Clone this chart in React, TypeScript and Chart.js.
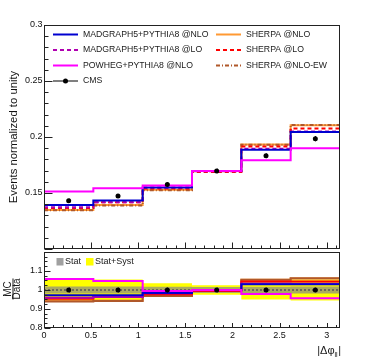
import React, { useEffect, useRef } from "react";
import { Chart, registerables } from "chart.js";
Chart.register(...registerables);

const FONT = "'Liberation Sans', Arial, Helvetica, sans-serif";

// ---- data ----
const binEdges = [0, 0.5236, 1.0472, 1.5708, 2.0944, 2.618, 3.1416];
const binCenters = [0.2618, 0.7854, 1.309, 1.8326, 2.3562, 2.8798];
const cmsData = [0.1431, 0.1473, 0.1575, 0.1697, 0.1832, 0.1985];
const cmsStat = [0.0018, 0.0018, 0.0019, 0.002, 0.0021, 0.0023];
const madgraphNlo = [0.1392, 0.1432, 0.155, 0.1697, 0.1887, 0.2044];
const madgraphLo = [0.1372, 0.1418, 0.1548, 0.1695, 0.1895, 0.205];
const powhegNlo = [0.1514, 0.1542, 0.1567, 0.1697, 0.1793, 0.19];
const sherpaNlo = [0.1348, 0.1392, 0.1528, 0.1697, 0.1932, 0.2105];
const sherpaLo = [0.1365, 0.1418, 0.154, 0.1688, 0.1915, 0.2075];
const sherpaNloEw = [0.1345, 0.1388, 0.1525, 0.1694, 0.193, 0.2108];
const ratioStatBand = [0.018, 0.018, 0.017, 0.016, 0.017, 0.018];
const ratioTotalBand = [0.06, 0.055, 0.035, 0.025, 0.05, 0.055];
const mainYTickLabels = [0.15, 0.2, 0.25, 0.3];
const ratioYTickLabels = [0.8, 0.9, 1, 1.1];
const xTickLabels = [0, 0.5, 1, 1.5, 2, 2.5, 3];

const models = [
  { label: "MADGRAPH5+PYTHIA8 @NLO", values: madgraphNlo, color: "#0000d0", dash: [] as number[], col: 0, row: 0, order: 2 },
  { label: "MADGRAPH5+PYTHIA8 @LO", values: madgraphLo, color: "#b000b0", dash: [4, 3], col: 0, row: 1, order: 3 },
  { label: "POWHEG+PYTHIA8 @NLO", values: powhegNlo, color: "#ff00ff", dash: [] as number[], col: 0, row: 2, order: 1 },
  { label: "SHERPA @NLO", values: sherpaNlo, color: "#ff9933", dash: [] as number[], col: 1, row: 0, order: 6 },
  { label: "SHERPA @LO", values: sherpaLo, color: "#ff0000", dash: [4, 3], col: 1, row: 1, order: 4 },
  { label: "SHERPA @NLO-EW", values: sherpaNloEw, color: "#b0582a", dash: [4, 2, 1, 2], col: 1, row: 2, order: 5 },
];

const stepPoints = (vals: number[]) => [
  ...binEdges.slice(0, -1).map((x, i) => ({ x, y: vals[i] })),
  { x: binEdges[binEdges.length - 1], y: vals[vals.length - 1] },
];
const ratioOf = (vals: number[]) => vals.map((v, i) => v / cmsData[i]);

// ---- plugins ----
function framePlugin(s: any) {
  return {
    id: "frame",
    afterDatasetsDraw(chart: any) {
      const { ctx, chartArea: a } = chart;
      const xs = chart.scales.x, ys = chart.scales.y;
      ctx.save();
      ctx.strokeStyle = "#222";
      ctx.lineWidth = 1;
      ctx.setLineDash([]);
      const L = Math.round(a.left) + 0.5, R = Math.round(a.right) - 0.5;
      const T = Math.round(a.top) + 0.5, B = Math.round(a.bottom) - 0.5;
      ctx.strokeRect(L, T, R - L, B - T);
      ctx.beginPath();
      const nx = Math.floor((xs.max - xs.min) / s.xMinor + 1e-6);
      const rx = Math.round(s.xMajor / s.xMinor);
      for (let i = 0; i <= nx; i++) {
        const px = Math.round(xs.getPixelForValue(xs.min + i * s.xMinor)) + 0.5;
        const len = i % rx === 0 ? s.xMajLen : s.xMinLen;
        ctx.moveTo(px, B);
        ctx.lineTo(px, B - len);
      }
      const ny = Math.floor((ys.max - ys.min) / s.yMinor + 1e-6);
      const ry = Math.round(s.yMajor / s.yMinor);
      for (let i = 0; i <= ny; i++) {
        const py = Math.round(ys.getPixelForValue(ys.min + i * s.yMinor)) + 0.5;
        const len = i % ry === 0 ? s.yMajLen : s.yMinLen;
        ctx.moveTo(L, py);
        ctx.lineTo(L + len, py);
      }
      ctx.stroke();
      ctx.restore();
    },
  };
}

const errorBarPlugin = {
  id: "errbars",
  afterDatasetsDraw(chart: any) {
    const ctx = chart.ctx;
    const ys = chart.scales.y;
    chart.data.datasets.forEach((ds: any, di: number) => {
      if (!ds.errorBars) return;
      const meta = chart.getDatasetMeta(di);
      ctx.save();
      ctx.strokeStyle = "#000";
      ctx.lineWidth = 1;
      ctx.setLineDash([]);
      ctx.beginPath();
      meta.data.forEach((pt: any, i: number) => {
        const d = ds.data[i];
        const e = ds.errorBars[i];
        const x = Math.round(pt.x) + 0.5;
        ctx.moveTo(x, ys.getPixelForValue(d.y - e));
        ctx.lineTo(x, ys.getPixelForValue(d.y + e));
      });
      ctx.stroke();
      ctx.restore();
    });
  },
};

const mainDecor = {
  id: "mainDecor",
  afterDraw(chart: any) {
    const ctx = chart.ctx;
    ctx.save();
    const colLine = [53, 216];
    const lineLen = 25;
    const colText = [83, 246];
    const rowY = [34.5, 50, 65.5, 81];
    ctx.font = `8.7px ${FONT}`;
    ctx.textBaseline = "middle";
    ctx.textAlign = "left";
    models.forEach((m) => {
      const y = rowY[m.row];
      ctx.strokeStyle = m.color;
      ctx.lineWidth = 2;
      ctx.setLineDash(m.dash);
      ctx.beginPath();
      ctx.moveTo(colLine[m.col], y);
      ctx.lineTo(colLine[m.col] + lineLen, y);
      ctx.stroke();
      ctx.fillStyle = "#1a1a1a";
      ctx.fillText(m.label, colText[m.col], y);
    });
    const yc = rowY[3];
    ctx.setLineDash([]);
    ctx.strokeStyle = "#000";
    ctx.lineWidth = 1;
    ctx.beginPath();
    ctx.moveTo(colLine[0], yc);
    ctx.lineTo(colLine[0] + lineLen, yc);
    ctx.stroke();
    ctx.fillStyle = "#000";
    ctx.beginPath();
    ctx.arc(colLine[0] + lineLen / 2, yc, 2.5, 0, Math.PI * 2);
    ctx.fill();
    ctx.fillStyle = "#1a1a1a";
    ctx.fillText("CMS", colText[0], yc);
    // y title
    ctx.translate(14, 137);
    ctx.rotate(-Math.PI / 2);
    ctx.textAlign = "center";
    ctx.font = `11.3px ${FONT}`;
    ctx.fillStyle = "#111";
    ctx.fillText("Events normalized to unity", 0, 0);
    ctx.restore();
  },
};

// ratio canvas is placed at page y = 248
const RATIO_TOP = 248;

const ratioDecor = {
  id: "ratioDecor",
  afterDraw(chart: any) {
    const ctx = chart.ctx;
    ctx.save();
    // band legend
    ctx.fillStyle = "#a0a0a0";
    ctx.fillRect(56.5, 258 - RATIO_TOP, 7, 7.5);
    ctx.fillStyle = "#ffff00";
    ctx.fillRect(86, 258 - RATIO_TOP, 7.5, 7.5);
    ctx.font = `9px ${FONT}`;
    ctx.textBaseline = "middle";
    ctx.fillStyle = "#1a1a1a";
    ctx.fillText("Stat", 65, 262 - RATIO_TOP);
    ctx.fillText("Stat+Syst", 95, 262 - RATIO_TOP);
    // x title
    const base = 353.5 - RATIO_TOP;
    ctx.textBaseline = "alphabetic";
    ctx.font = `11px ${FONT}`;
    const w1 = ctx.measureText("|Δφ").width;
    const w3 = ctx.measureText("|").width;
    ctx.font = `7px ${FONT}`;
    const w2 = ctx.measureText("ll").width;
    let x = 341 - (w1 + w2 + w3 + 0.5);
    ctx.font = `11px ${FONT}`;
    ctx.fillText("|Δφ", x, base);
    x += w1;
    ctx.font = `7px ${FONT}`;
    ctx.fillText("ll", x, base + 3);
    x += w2 + 0.5;
    ctx.font = `11px ${FONT}`;
    ctx.fillText("|", x, base);
    // MC / Data
    ctx.translate(12.5, 289 - RATIO_TOP);
    ctx.rotate(-Math.PI / 2);
    ctx.textAlign = "center";
    ctx.textBaseline = "middle";
    ctx.font = `10px ${FONT}`;
    ctx.fillText("MC", 0, -4.5);
    ctx.fillText("Data", 0, 5);
    ctx.strokeStyle = "#1a1a1a";
    ctx.lineWidth = 1;
    ctx.beginPath();
    ctx.moveTo(-10.5, 0.5);
    ctx.lineTo(10.5, 0.5);
    ctx.stroke();
    ctx.restore();
  },
};

function yScale(min: number, max: number, labels: number[]) {
  return {
    type: "linear",
    min,
    max,
    grid: { display: false, drawTicks: false },
    border: { display: false },
    afterBuildTicks: (s: any) => {
      s.ticks = labels.map((v) => ({ value: v }));
    },
    afterFit: (s: any) => {
      s.width = 44;
      s.paddingTop = 0;
      s.paddingBottom = 0;
    },
    ticks: {
      padding: 1.5,
      color: "#111",
      font: { size: 9, family: FONT },
      callback: (v: any) => String(v),
    },
  };
}

function mainConfig(): any {
  const datasets: any[] = [
    ...models.map((m) => ({
      type: "line",
      label: m.label,
      data: stepPoints(m.values),
      borderColor: m.color,
      borderWidth: 2,
      borderDash: m.dash,
      stepped: "before",
      pointRadius: 0,
      fill: false,
      order: m.order,
    })),
    {
      type: "line",
      label: "CMS",
      data: binCenters.map((x, i) => ({ x, y: cmsData[i] })),
      showLine: false,
      pointRadius: 2.5,
      pointBackgroundColor: "#000",
      pointBorderColor: "#000",
      pointBorderWidth: 0,
      order: 0,
      errorBars: cmsStat,
    },
  ];
  return {
    type: "line",
    data: { datasets },
    options: {
      animation: false,
      responsive: false,
      events: [],
      layout: { padding: { left: 0, right: 30, top: 25, bottom: 2 } },
      plugins: { legend: { display: false }, tooltip: { enabled: false } },
      scales: {
        x: { type: "linear", min: binEdges[0], max: binEdges[binEdges.length - 1], display: false },
        y: yScale(0.1, 0.3, mainYTickLabels),
      },
    },
    plugins: [
      framePlugin({ xMajor: 0.5, xMinor: 0.1, yMajor: 0.05, yMinor: 0.01, xMajLen: 6, xMinLen: 3, yMajLen: 8, yMinLen: 4 }),
      errorBarPlugin,
      mainDecor,
    ],
  };
}

function ratioConfig(): any {
  const band = (vals: number[], sign: number) => stepPoints(vals.map((e) => 1 + sign * e));
  const datasets: any[] = [
    { type: "line", data: band(ratioTotalBand, 1), borderColor: "transparent", borderWidth: 0, pointRadius: 0, stepped: "before", fill: false, order: 20 },
    { type: "line", data: band(ratioTotalBand, -1), borderColor: "transparent", borderWidth: 0, pointRadius: 0, stepped: "before", fill: "-1", backgroundColor: "#ffff00", order: 19 },
    { type: "line", data: band(ratioStatBand, 1), borderColor: "transparent", borderWidth: 0, pointRadius: 0, stepped: "before", fill: false, order: 18 },
    { type: "line", data: band(ratioStatBand, -1), borderColor: "transparent", borderWidth: 0, pointRadius: 0, stepped: "before", fill: "-1", backgroundColor: "rgba(135,135,135,0.7)", order: 17 },
    {
      type: "line",
      data: [
        { x: binEdges[0], y: 1 },
        { x: binEdges[binEdges.length - 1], y: 1 },
      ],
      borderColor: "#555",
      borderWidth: 1.5,
      borderDash: [2, 2],
      pointRadius: 0,
      fill: false,
      order: 16,
    },
    ...models.map((m) => ({
      type: "line",
      data: stepPoints(ratioOf(m.values)),
      borderColor: m.color,
      borderWidth: 2,
      stepped: "before",
      pointRadius: 0,
      fill: false,
      order: m.order,
    })),
    {
      type: "line",
      data: binCenters.map((x, i) => ({ x, y: ratioOf(cmsData)[i] })),
      showLine: false,
      pointRadius: 2.5,
      pointBackgroundColor: "#000",
      pointBorderColor: "#000",
      pointBorderWidth: 0,
      order: 0,
      errorBars: cmsStat.map((e, i) => e / cmsData[i]),
    },
  ];
  return {
    type: "line",
    data: { datasets },
    options: {
      animation: false,
      responsive: false,
      events: [],
      layout: { padding: { left: 0, right: 30, top: 2, bottom: 0 } },
      plugins: { legend: { display: false }, tooltip: { enabled: false } },
      scales: {
        x: {
          type: "linear",
          min: binEdges[0],
          max: binEdges[binEdges.length - 1],
          grid: { display: false, drawTicks: false },
          border: { display: false },
          afterBuildTicks: (s: any) => {
            s.ticks = xTickLabels.map((v) => ({ value: v }));
          },
          afterFit: (s: any) => {
            s.height = 32;
            s.paddingLeft = 0;
            s.paddingRight = 0;
          },
          ticks: {
            padding: 2,
            color: "#111",
            maxRotation: 0,
            autoSkip: false,
            font: { size: 9, family: FONT },
            callback: (v: any) => String(v),
          },
        },
        y: yScale(0.8, 1.2, ratioYTickLabels),
      },
    },
    plugins: [
      framePlugin({ xMajor: 0.5, xMinor: 0.1, yMajor: 0.1, yMinor: 0.025, xMajLen: 4.5, xMinLen: 2.5, yMajLen: 6, yMinLen: 3 }),
      errorBarPlugin,
      ratioDecor,
    ],
  };
}

export default function App() {
  const mainRef = useRef<HTMLCanvasElement>(null);
  const ratioRef = useRef<HTMLCanvasElement>(null);
  useEffect(() => {
    const main = new Chart(mainRef.current as HTMLCanvasElement, mainConfig());
    const ratio = new Chart(ratioRef.current as HTMLCanvasElement, ratioConfig());
    return () => {
      main.destroy();
      ratio.destroy();
    };
  }, []);
  return (
    <div style={{ position: "absolute", left: 0, top: 0, width: 370, height: 360, background: "#fff" }}>
      <canvas ref={mainRef} width={370} height={253} style={{ position: "absolute", left: 0, top: 0 }} />
      <canvas ref={ratioRef} width={370} height={360 - RATIO_TOP} style={{ position: "absolute", left: 0, top: RATIO_TOP }} />
    </div>
  );
}
